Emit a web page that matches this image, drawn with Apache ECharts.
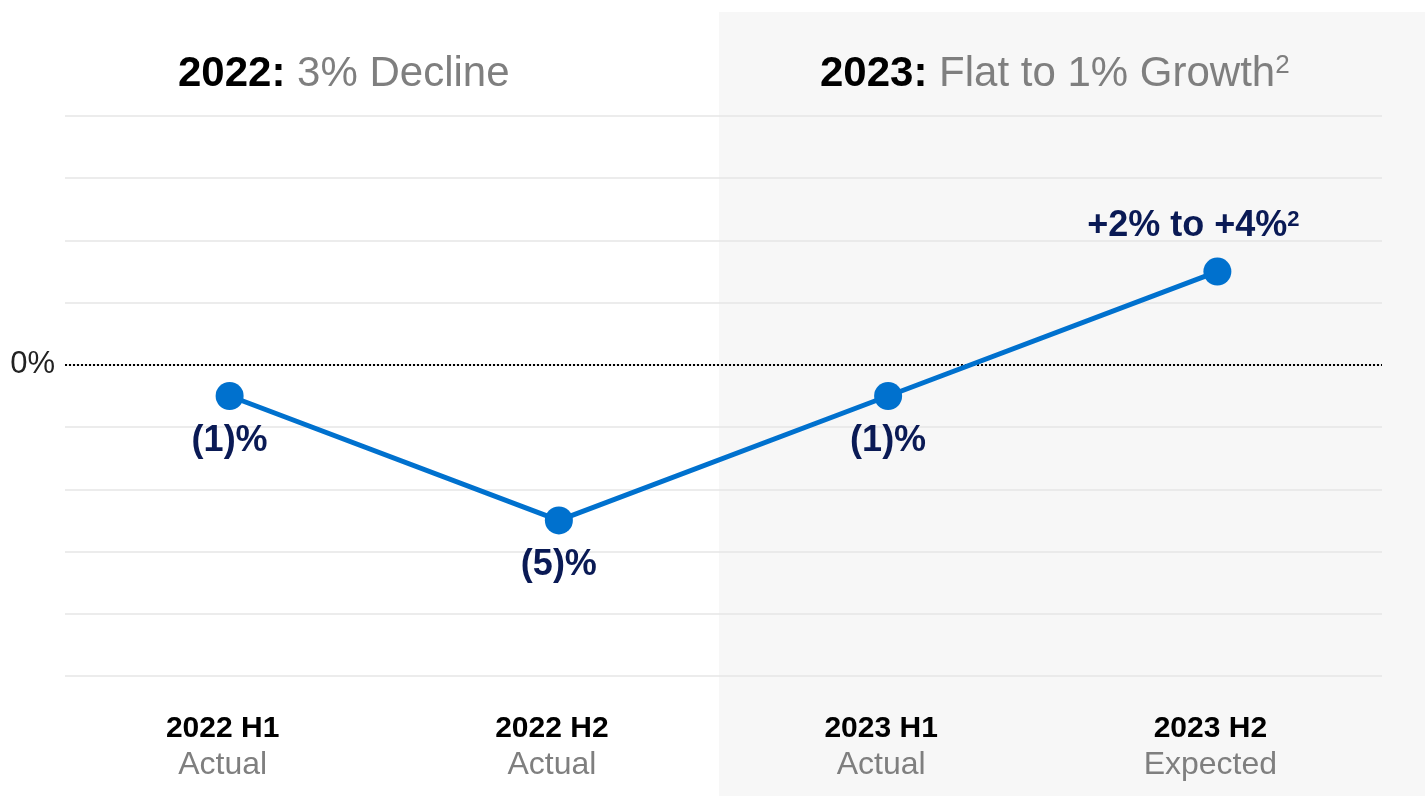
<!DOCTYPE html>
<html>
<head>
<meta charset="utf-8">
<title>Growth by half year</title>
<script src="https://cdn.jsdelivr.net/npm/echarts@6/dist/echarts.min.js"></script>
<style>
  html, body { margin: 0; padding: 0; background: #fff; }
  #main { width: 1425px; height: 796px; }
</style>
</head>
<body>
<div id="main"></div>
<script type="text/javascript">
// data
var periods = ['2022 H1', '2022 H2', '2023 H1', '2023 H2'];
var statuses = ['Actual', 'Actual', 'Actual', 'Expected'];
var growth = [-1, -5, -1, 3];
var pointLabels = ['(1)%', '(5)%', '(1)%', '+2% to +4%'];
var pointSup = ['', '', '', '2'];
var labelAbove = [false, false, false, true];

var myChart = echarts.init(document.getElementById('main'));
var font = 'Liberation Sans, Arial, sans-serif';

// label above the point for the forecast, below for the rest
var seriesData = growth.map(function (v, i) {
    return labelAbove[i] ? { value: v, label: { position: 'top', offset: [-24, 0] } } : v;
});

myChart.setOption({
    animation: false,
    textStyle: { fontFamily: font },
    graphic: [{
        type: 'rect',
        z: -10,
        silent: true,
        shape: { x: 719, y: 12, width: 706, height: 784 },
        style: { fill: '#f7f7f7' }
    }],
    title: [{
        left: 173,
        top: 48,
        text: '{b|2022:}{g| 3% Decline}',
        textStyle: {
            fontWeight: 'normal',
            rich: {
                b: { fontSize: 42, fontWeight: 'bold', color: '#000', fontFamily: font },
                g: { fontSize: 42, fontWeight: 'normal', color: '#7f7f7f', fontFamily: font }
            }
        }
    }, {
        left: 815,
        top: 48,
        text: '{b|2023:}{g| Flat to 1% Growth}{s|2}',
        textStyle: {
            fontWeight: 'normal',
            rich: {
                b: { fontSize: 42, fontWeight: 'bold', color: '#000', fontFamily: font },
                g: { fontSize: 42, fontWeight: 'normal', color: '#7f7f7f', fontFamily: font },
                s: { fontSize: 26, fontWeight: 'normal', color: '#7f7f7f', fontFamily: font, verticalAlign: 'top' }
            }
        }
    }],
    grid: { left: 65, right: 43, top: 116, bottom: 120 },
    xAxis: {
        type: 'category',
        data: periods,
        axisLine: { show: false },
        axisTick: { show: false },
        axisLabel: {
            margin: 35,
            formatter: function (v, i) {
                return '{a|' + v + '}\n{b|' + statuses[i] + '}';
            },
            rich: {
                a: { fontSize: 30, fontWeight: 'bold', color: '#000', fontFamily: font, lineHeight: 36, padding: [0, 14, 0, 0] },
                b: { fontSize: 32, color: '#7f7f7f', fontFamily: font, lineHeight: 36, padding: [0, 14, 0, 0] }
            }
        }
    },
    yAxis: {
        type: 'value',
        min: -10,
        max: 8,
        interval: 2,
        axisLine: { show: false },
        axisTick: { show: false },
        splitLine: { lineStyle: { color: '#e6e6e6', width: 1.5 } },
        axisLabel: {
            margin: 10,
            fontSize: 31,
            color: '#222',
            fontFamily: font,
            formatter: function (v) { return v === 0 ? '0%' : ''; }
        }
    },
    series: [{
        type: 'line',
        data: seriesData,
        symbol: 'circle',
        symbolSize: 28,
        lineStyle: { color: '#0071ce', width: 5 },
        itemStyle: { color: '#0071ce' },
        z: 5,
        label: {
            show: true,
            position: 'bottom',
            distance: 13,
            formatter: function (p) {
                var s = '{m|' + pointLabels[p.dataIndex] + '}';
                if (pointSup[p.dataIndex]) s += '{s|' + pointSup[p.dataIndex] + '}';
                return s;
            },
            rich: {
                m: { fontSize: 36, fontWeight: 'bold', color: '#0a1a55', fontFamily: font },
                s: { fontSize: 22, fontWeight: 'bold', color: '#0a1a55', fontFamily: font, verticalAlign: 'top' }
            }
        },
        markLine: {
            silent: true,
            symbol: 'none',
            label: { show: false },
            lineStyle: { color: '#000', type: 'dotted', width: 2 },
            data: [{ yAxis: 0 }]
        }
    }]
});
</script>
</body>
</html>
